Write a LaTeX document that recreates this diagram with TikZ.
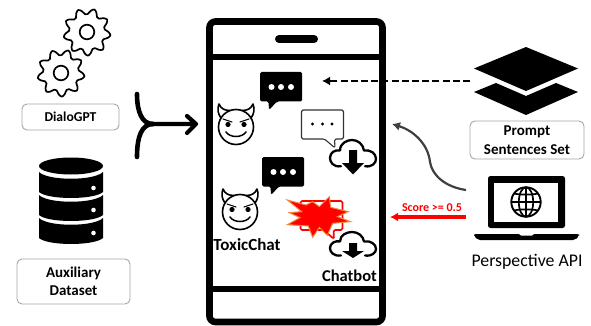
\documentclass[tikz,border=0pt]{standalone}
\usepackage{fontspec}
\setmainfont{Carlito}
\usetikzlibrary{arrows.meta}
\definecolor{boxgrey}{HTML}{A6A6A6}
\definecolor{curvegrey}{HTML}{404040}
\definecolor{starorange}{HTML}{F08A3C}
\tikzset{
  labelbox/.style={draw=boxgrey,line width=0.9pt,rounded corners=5pt,fill=white,align=center,font=\bfseries\fontsize{15}{18.5}\selectfont,inner sep=0pt},
  gearline/.style={line width=1.7pt,line join=round},
  phoneline/.style={line width=6.6pt},
  pics/gearicon/.style={code={
    \draw[gearline] plot[smooth cycle,domain=0:352,samples=45] ({(20.5+3.2*cos(9*\x))*cos(\x+8)},{(20.5+3.2*cos(9*\x))*sin(\x+8)});
    \draw[gearline] (0,0) circle (7.3);
  }},
  pics/bubble/.style={code={
    \draw[#1,rounded corners=1.5pt,line join=round] (0,0) -- (42,0) -- (42,29) -- (33,29) -- (33.5,38) -- (23,29) -- (0,29) -- cycle;
  }},
  pics/darkbubble/.style={code={
    \fill[black,rounded corners=1.5pt] (0,0) -- (42,0) -- (42,29.5) -- (17,29.5) -- (9,38) -- (8.5,29.5) -- (0,29.5) -- cycle;
    \foreach \d in {11.5,21,31}{\fill[white] (\d,15) circle (3);}
  }},
  pics/cloudicon/.style={code={
    \draw[line width=2.3pt,line cap=round,line join=round]
      (11,25) .. controls (3,26) and (0,21) .. (0,17) .. controls (0,12) and (5,9) .. (10,10)
      .. controls (10,3) and (17,0) .. (22,0) .. controls (28,0) and (33,4) .. (34,10)
      .. controls (41,9) and (46,13) .. (46,18) .. controls (46,22) and (42,26) .. (35,25);
  }},
  pics/devilicon/.style={code={
    \draw[line width=1.6pt,line join=round,line cap=round]
      (-15,-9) .. controls (-18,-13) and (-19,-18) .. (-17,-23) .. controls (-15,-18) and (-11,-16.5) .. (-6,-16.5)
      (15,-9) .. controls (18,-13) and (19,-18) .. (17,-23) .. controls (15,-18) and (11,-16.5) .. (6,-16.5);
    \draw[line width=1.6pt] (0,0) circle (17.5);
    \fill (-8,-2.5) circle (2.6) (8,-2.5) circle (2.6);
    \draw[line width=1.1pt,line cap=round] (-13,-8) -- (-4,-5) (13,-8) -- (4,-5);
    \draw[line width=1.5pt,line cap=round] (-10,5) .. controls (-6,11) and (6,11) .. (10,5);
  }},
}
\begin{document}
\begin{tikzpicture}[x=1pt,y=-1pt]
\useasboundingbox (0,0) rectangle (591,326);
% gears
\pic at (87,32) {gearicon};
\pic at (61,73) {gearicon};
\node[labelbox,font=\bfseries\fontsize{13.6}{16}\selectfont,minimum width=97pt,minimum height=26pt] (dialo) at (70.5,117) {DialoGPT};
% database
\fill (39,166) arc[start angle=180,end angle=360,x radius=32,y radius=8.5] arc[start angle=0,end angle=180,x radius=32,y radius=8.5];
\foreach \t in {172,195,218}{
  \fill (39,\t) .. controls (48,\t+9) and (94,\t+9) .. (103,\t) -- (103,\t+20) .. controls (94,\t+28) and (48,\t+28) .. (39,\t+20) -- cycle;
}
\foreach \t in {188,210,233}{\fill[white] (93.5,\t) circle (2.3);}
\node[labelbox,minimum width=113pt,minimum height=45pt] (aux) at (73.5,281.5) {Auxiliary\\Dataset};
% merge arrow
\coordinate (mergeA) at (137,94);
\coordinate (mergeB) at (137,157);
\coordinate (mergeJ) at (153,124);
\coordinate (mergeE) at (196,124);
\draw[line width=4.6pt,line cap=round] (mergeA) .. controls (137,112) and (142,124) .. (mergeJ);
\draw[line width=4.6pt,line cap=round] (mergeB) .. controls (137,136) and (142,124) .. (mergeJ);
\draw[line width=4.2pt,line cap=round,line join=round] (mergeJ) -- (mergeE) (187,116) -- (196,124) -- (187,133);
% phone
\draw[phoneline,rounded corners=6pt] (209.5,21.5) rectangle (382.5,322);
\draw[phoneline] (209.5,57) -- (382.5,57) (209.5,289) -- (382.5,289);
\draw[line width=8pt,line cap=round] (279,39) -- (314,39);
% chat content
\pic at (260,72) {darkbubble};
\pic at (262,157) {darkbubble};
\pic at (301.5,110) {bubble={draw=black!80,line width=1.1pt,fill=white}};
\foreach \d in {312.5,322.5,332}{\fill (\d,124) circle (1.7);}
\pic at (236,127) {devilicon};
\pic at (240,212) {devilicon};
\pic[yscale=1.05] at (330,140) {cloudicon};
\fill (349,150) rectangle (357,163) (342,163) -- (364,163) -- (353,174.5) -- cycle;
\pic[yscale=0.94] at (330,232) {cloudicon};
\fill (349,243) rectangle (357,251) (342,251) -- (364,251) -- (353,258) -- cycle;
% toxic bubble
\pic at (300.5,201) {bubble={draw=red,line width=1.7pt,fill=white}};
\begin{scope}[shift={(200,150)},x=0.3333pt,y=-0.3333pt]
\fill[red,draw=starorange,line width=1pt,line join=miter]
 (262,150) -- (318,165) -- (338,155) -- (358,170) -- (388,140) -- (392,172) -- (445,185) -- (412,200) -- (452,215) -- (398,220) -- (382,256) -- (358,232) -- (338,262) -- (325,228) -- (262,224) -- (300,203) -- (268,188) -- (305,185) -- cycle;
\end{scope}
\node[font=\bfseries\fontsize{17}{18}\selectfont,inner sep=0pt] (toxic) at (247,245) {ToxicChat};
\node[font=\bfseries\fontsize{16.5}{18}\selectfont,inner sep=0pt] (chatbot) at (349.5,276) {Chatbot};
% layers
\fill (474,68.5) -- (526,47) -- (578,68.5) -- (526,91) -- cycle;
\fill (474,92) -- (496,83) -- (526,96) -- (556,83) -- (578,92) -- (526,115) -- cycle;
\node[labelbox,minimum width=114pt,minimum height=38pt] (prompt) at (527,140) {Prompt\\Sentences Set};
% laptop
\fill[rounded corners=2.5pt] (488,176) rectangle (565,228);
\fill[white] (494,183) rectangle (558,222);
\fill[rounded corners=2pt] (474,234) -- (579,234) -- (579,236) -- (575,240) -- (478,240) -- (474,236) -- cycle;
\fill[white] (519,234) -- (534,234) -- (532,235.5) -- (521,235.5) -- cycle;
\draw[line width=1.9pt] (526,202) circle (14.7);
\draw[line width=1.7pt] (526,187.3) -- (526,216.7) (511.3,202) -- (540.7,202)
  (514,193.5) .. controls (520,195) and (532,195) .. (538,193.5)
  (514,210.5) .. controls (520,209) and (532,209) .. (538,210.5);
\draw[line width=1.7pt] (526,202) ellipse (7.2 and 14.7);
\node[font=\fontsize{17.8}{20}\selectfont,inner sep=0pt] (api) at (527,262) {Perspective API};
% connectors
\coordinate (dashS) at (470,81);
\coordinate (dashE) at (322,81);
\coordinate (curveS) at (466,190);
\coordinate (curveE) at (392,124);
\coordinate (redS) at (466,217);
\coordinate (redE) at (390,217);
\draw[line width=2.6pt,dash pattern=on 7pt off 3.2pt,-{Latex[length=8pt,width=9pt]}] (dashS) -- (dashE);
\draw[curvegrey,line width=2.2pt,-{Latex[length=8pt,width=9pt]}] (curveS) .. controls (445,187) and (432,175) .. (430,162) .. controls (428,143) and (412,130) .. (curveE);
\draw[red,line width=3.2pt,-{Latex[length=8pt,width=9pt]}] (redS) -- (redE);
\node[font=\bfseries\fontsize{12}{13}\selectfont,text=red,inner sep=0pt] (score) at (432,208) {Score >= 0.5};
\end{tikzpicture}
\end{document}
